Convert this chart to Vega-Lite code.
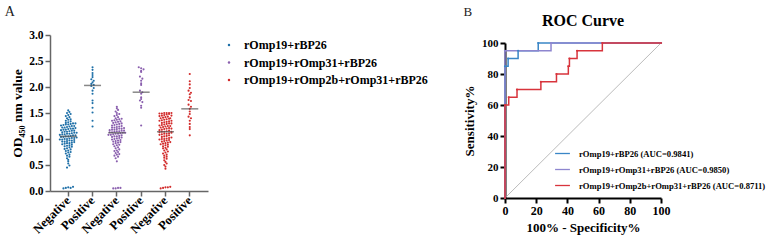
{
"$schema":"https://vega.github.io/schema/vega-lite/v6.json",
"padding":{"left":4,"top":5,"right":0,"bottom":0},
"background":"white",
"config":{"font":"Liberation Serif","view":{"stroke":null},"axis":{"grid":false,"labelOverlap":false,"labelBound":false},"legend":{"labelLimit":0}},
"spacing":31,
"datasets":{
"pts":[
{"g":1,"s":"N","v":0.05},{"g":1,"s":"N","v":0.06},{"g":1,"s":"N","v":0.07},{"g":1,"s":"N","v":0.06},{"g":1,"s":"N","v":0.08},
{"g":1,"s":"N","v":0.45},{"g":1,"s":"N","v":0.49},{"g":1,"s":"N","v":0.53},{"g":1,"s":"N","v":0.57},{"g":1,"s":"N","v":0.6},{"g":1,"s":"N","v":0.63},{"g":1,"s":"N","v":0.66},{"g":1,"s":"N","v":0.68},{"g":1,"s":"N","v":0.7},{"g":1,"s":"N","v":0.72},{"g":1,"s":"N","v":0.74},{"g":1,"s":"N","v":0.75},{"g":1,"s":"N","v":0.77},{"g":1,"s":"N","v":0.78},{"g":1,"s":"N","v":0.8},{"g":1,"s":"N","v":0.81},{"g":1,"s":"N","v":0.82},{"g":1,"s":"N","v":0.84},{"g":1,"s":"N","v":0.85},{"g":1,"s":"N","v":0.86},{"g":1,"s":"N","v":0.87},{"g":1,"s":"N","v":0.88},{"g":1,"s":"N","v":0.89},{"g":1,"s":"N","v":0.9},{"g":1,"s":"N","v":0.91},{"g":1,"s":"N","v":0.92},{"g":1,"s":"N","v":0.92},{"g":1,"s":"N","v":0.93},{"g":1,"s":"N","v":0.94},{"g":1,"s":"N","v":0.95},{"g":1,"s":"N","v":0.95},{"g":1,"s":"N","v":0.96},{"g":1,"s":"N","v":0.97},{"g":1,"s":"N","v":0.97},{"g":1,"s":"N","v":0.98},{"g":1,"s":"N","v":0.99},{"g":1,"s":"N","v":0.99},{"g":1,"s":"N","v":1.0},{"g":1,"s":"N","v":1.0},{"g":1,"s":"N","v":1.01},{"g":1,"s":"N","v":1.02},{"g":1,"s":"N","v":1.02},{"g":1,"s":"N","v":1.03},{"g":1,"s":"N","v":1.04},{"g":1,"s":"N","v":1.04},{"g":1,"s":"N","v":1.05},{"g":1,"s":"N","v":1.05},{"g":1,"s":"N","v":1.06},{"g":1,"s":"N","v":1.07},{"g":1,"s":"N","v":1.07},{"g":1,"s":"N","v":1.08},{"g":1,"s":"N","v":1.09},{"g":1,"s":"N","v":1.09},{"g":1,"s":"N","v":1.1},{"g":1,"s":"N","v":1.1},{"g":1,"s":"N","v":1.11},{"g":1,"s":"N","v":1.12},{"g":1,"s":"N","v":1.12},{"g":1,"s":"N","v":1.13},{"g":1,"s":"N","v":1.14},{"g":1,"s":"N","v":1.14},{"g":1,"s":"N","v":1.15},{"g":1,"s":"N","v":1.16},{"g":1,"s":"N","v":1.16},{"g":1,"s":"N","v":1.17},{"g":1,"s":"N","v":1.18},{"g":1,"s":"N","v":1.18},{"g":1,"s":"N","v":1.19},{"g":1,"s":"N","v":1.2},{"g":1,"s":"N","v":1.2},{"g":1,"s":"N","v":1.21},{"g":1,"s":"N","v":1.22},{"g":1,"s":"N","v":1.22},{"g":1,"s":"N","v":1.23},{"g":1,"s":"N","v":1.24},{"g":1,"s":"N","v":1.25},{"g":1,"s":"N","v":1.25},{"g":1,"s":"N","v":1.26},{"g":1,"s":"N","v":1.27},{"g":1,"s":"N","v":1.28},{"g":1,"s":"N","v":1.28},{"g":1,"s":"N","v":1.29},{"g":1,"s":"N","v":1.3},{"g":1,"s":"N","v":1.3},{"g":1,"s":"N","v":1.31},{"g":1,"s":"N","v":1.32},{"g":1,"s":"N","v":1.34},{"g":1,"s":"N","v":1.35},{"g":1,"s":"N","v":1.37},{"g":1,"s":"N","v":1.38},{"g":1,"s":"N","v":1.4},{"g":1,"s":"N","v":1.42},{"g":1,"s":"N","v":1.44},{"g":1,"s":"N","v":1.46},{"g":1,"s":"N","v":1.48},{"g":1,"s":"N","v":1.5},{"g":1,"s":"N","v":1.52},{"g":1,"s":"N","v":1.55},
{"g":1,"s":"P","v":2.38},{"g":1,"s":"P","v":2.33},{"g":1,"s":"P","v":2.27},{"g":1,"s":"P","v":2.23},{"g":1,"s":"P","v":2.19},{"g":1,"s":"P","v":2.15},{"g":1,"s":"P","v":2.12},{"g":1,"s":"P","v":2.09},{"g":1,"s":"P","v":2.06},{"g":1,"s":"P","v":2.04},{"g":1,"s":"P","v":2.02},{"g":1,"s":"P","v":1.98},{"g":1,"s":"P","v":1.93},{"g":1,"s":"P","v":1.87},{"g":1,"s":"P","v":1.74},{"g":1,"s":"P","v":1.69},{"g":1,"s":"P","v":1.6},{"g":1,"s":"P","v":1.51},{"g":1,"s":"P","v":1.35},{"g":1,"s":"P","v":1.24},
{"g":2,"s":"N","v":0.05},{"g":2,"s":"N","v":0.05},{"g":2,"s":"N","v":0.06},{"g":2,"s":"N","v":0.06},
{"g":2,"s":"N","v":0.57},{"g":2,"s":"N","v":0.63},{"g":2,"s":"N","v":0.66},{"g":2,"s":"N","v":0.68},{"g":2,"s":"N","v":0.7},{"g":2,"s":"N","v":0.71},{"g":2,"s":"N","v":0.73},{"g":2,"s":"N","v":0.75},{"g":2,"s":"N","v":0.77},{"g":2,"s":"N","v":0.78},{"g":2,"s":"N","v":0.8},{"g":2,"s":"N","v":0.82},{"g":2,"s":"N","v":0.84},{"g":2,"s":"N","v":0.86},{"g":2,"s":"N","v":0.88},{"g":2,"s":"N","v":0.89},{"g":2,"s":"N","v":0.9},{"g":2,"s":"N","v":0.92},{"g":2,"s":"N","v":0.93},{"g":2,"s":"N","v":0.94},{"g":2,"s":"N","v":0.95},{"g":2,"s":"N","v":0.96},{"g":2,"s":"N","v":0.97},{"g":2,"s":"N","v":0.98},{"g":2,"s":"N","v":0.99},{"g":2,"s":"N","v":1.0},{"g":2,"s":"N","v":1.01},{"g":2,"s":"N","v":1.02},{"g":2,"s":"N","v":1.03},{"g":2,"s":"N","v":1.04},{"g":2,"s":"N","v":1.05},{"g":2,"s":"N","v":1.05},{"g":2,"s":"N","v":1.06},{"g":2,"s":"N","v":1.07},{"g":2,"s":"N","v":1.08},{"g":2,"s":"N","v":1.08},{"g":2,"s":"N","v":1.09},{"g":2,"s":"N","v":1.1},{"g":2,"s":"N","v":1.1},{"g":2,"s":"N","v":1.11},{"g":2,"s":"N","v":1.12},{"g":2,"s":"N","v":1.12},{"g":2,"s":"N","v":1.13},{"g":2,"s":"N","v":1.13},{"g":2,"s":"N","v":1.14},{"g":2,"s":"N","v":1.15},{"g":2,"s":"N","v":1.15},{"g":2,"s":"N","v":1.16},{"g":2,"s":"N","v":1.16},{"g":2,"s":"N","v":1.17},{"g":2,"s":"N","v":1.18},{"g":2,"s":"N","v":1.18},{"g":2,"s":"N","v":1.19},{"g":2,"s":"N","v":1.2},{"g":2,"s":"N","v":1.2},{"g":2,"s":"N","v":1.21},{"g":2,"s":"N","v":1.22},{"g":2,"s":"N","v":1.22},{"g":2,"s":"N","v":1.23},{"g":2,"s":"N","v":1.24},{"g":2,"s":"N","v":1.25},{"g":2,"s":"N","v":1.26},{"g":2,"s":"N","v":1.27},{"g":2,"s":"N","v":1.28},{"g":2,"s":"N","v":1.29},{"g":2,"s":"N","v":1.3},{"g":2,"s":"N","v":1.31},{"g":2,"s":"N","v":1.32},{"g":2,"s":"N","v":1.33},{"g":2,"s":"N","v":1.34},{"g":2,"s":"N","v":1.35},{"g":2,"s":"N","v":1.36},{"g":2,"s":"N","v":1.37},{"g":2,"s":"N","v":1.38},{"g":2,"s":"N","v":1.39},{"g":2,"s":"N","v":1.4},{"g":2,"s":"N","v":1.42},{"g":2,"s":"N","v":1.44},{"g":2,"s":"N","v":1.46},{"g":2,"s":"N","v":1.48},{"g":2,"s":"N","v":1.5},{"g":2,"s":"N","v":1.53},{"g":2,"s":"N","v":1.56},{"g":2,"s":"N","v":1.59},{"g":2,"s":"N","v":1.62},
{"g":2,"s":"P","v":2.38},{"g":2,"s":"P","v":2.36},{"g":2,"s":"P","v":2.34},{"g":2,"s":"P","v":2.31},{"g":2,"s":"P","v":2.29},{"g":2,"s":"P","v":2.2},{"g":2,"s":"P","v":2.16},{"g":2,"s":"P","v":2.12},{"g":2,"s":"P","v":2.07},{"g":2,"s":"P","v":2.04},{"g":2,"s":"P","v":1.93},{"g":2,"s":"P","v":1.9},{"g":2,"s":"P","v":1.87},{"g":2,"s":"P","v":1.8},{"g":2,"s":"P","v":1.77},{"g":2,"s":"P","v":1.74},{"g":2,"s":"P","v":1.71},{"g":2,"s":"P","v":1.64},{"g":2,"s":"P","v":1.6},{"g":2,"s":"P","v":1.26},
{"g":3,"s":"N","v":0.05},{"g":3,"s":"N","v":0.06},{"g":3,"s":"N","v":0.07},{"g":3,"s":"N","v":0.07},{"g":3,"s":"N","v":0.08},
{"g":3,"s":"N","v":0.43},{"g":3,"s":"N","v":0.47},{"g":3,"s":"N","v":0.5},{"g":3,"s":"N","v":0.53},{"g":3,"s":"N","v":0.56},{"g":3,"s":"N","v":0.59},{"g":3,"s":"N","v":0.62},{"g":3,"s":"N","v":0.64},{"g":3,"s":"N","v":0.66},{"g":3,"s":"N","v":0.68},{"g":3,"s":"N","v":0.7},{"g":3,"s":"N","v":0.72},{"g":3,"s":"N","v":0.74},{"g":3,"s":"N","v":0.76},{"g":3,"s":"N","v":0.78},{"g":3,"s":"N","v":0.8},{"g":3,"s":"N","v":0.82},{"g":3,"s":"N","v":0.83},{"g":3,"s":"N","v":0.85},{"g":3,"s":"N","v":0.86},{"g":3,"s":"N","v":0.88},{"g":3,"s":"N","v":0.89},{"g":3,"s":"N","v":0.9},{"g":3,"s":"N","v":0.91},{"g":3,"s":"N","v":0.92},{"g":3,"s":"N","v":0.93},{"g":3,"s":"N","v":0.94},{"g":3,"s":"N","v":0.95},{"g":3,"s":"N","v":0.96},{"g":3,"s":"N","v":0.97},{"g":3,"s":"N","v":0.98},{"g":3,"s":"N","v":0.99},{"g":3,"s":"N","v":1.0},{"g":3,"s":"N","v":1.0},{"g":3,"s":"N","v":1.01},{"g":3,"s":"N","v":1.02},{"g":3,"s":"N","v":1.03},{"g":3,"s":"N","v":1.04},{"g":3,"s":"N","v":1.05},{"g":3,"s":"N","v":1.06},{"g":3,"s":"N","v":1.07},{"g":3,"s":"N","v":1.08},{"g":3,"s":"N","v":1.09},{"g":3,"s":"N","v":1.1},{"g":3,"s":"N","v":1.1},{"g":3,"s":"N","v":1.11},{"g":3,"s":"N","v":1.12},{"g":3,"s":"N","v":1.13},{"g":3,"s":"N","v":1.14},{"g":3,"s":"N","v":1.14},{"g":3,"s":"N","v":1.15},{"g":3,"s":"N","v":1.16},{"g":3,"s":"N","v":1.17},{"g":3,"s":"N","v":1.18},{"g":3,"s":"N","v":1.19},{"g":3,"s":"N","v":1.2},{"g":3,"s":"N","v":1.21},{"g":3,"s":"N","v":1.22},{"g":3,"s":"N","v":1.23},{"g":3,"s":"N","v":1.24},{"g":3,"s":"N","v":1.25},{"g":3,"s":"N","v":1.26},{"g":3,"s":"N","v":1.27},{"g":3,"s":"N","v":1.28},{"g":3,"s":"N","v":1.29},{"g":3,"s":"N","v":1.3},{"g":3,"s":"N","v":1.31},{"g":3,"s":"N","v":1.32},{"g":3,"s":"N","v":1.33},{"g":3,"s":"N","v":1.34},{"g":3,"s":"N","v":1.35},{"g":3,"s":"N","v":1.36},{"g":3,"s":"N","v":1.37},{"g":3,"s":"N","v":1.38},{"g":3,"s":"N","v":1.39},{"g":3,"s":"N","v":1.4},{"g":3,"s":"N","v":1.41},{"g":3,"s":"N","v":1.42},{"g":3,"s":"N","v":1.43},{"g":3,"s":"N","v":1.44},{"g":3,"s":"N","v":1.45},{"g":3,"s":"N","v":1.46},{"g":3,"s":"N","v":1.47},{"g":3,"s":"N","v":1.48},{"g":3,"s":"N","v":1.49},{"g":3,"s":"N","v":1.49},{"g":3,"s":"N","v":1.5},{"g":3,"s":"N","v":1.5},{"g":3,"s":"N","v":1.5},{"g":3,"s":"N","v":1.5},{"g":3,"s":"N","v":1.14},{"g":3,"s":"N","v":1.2},{"g":3,"s":"N","v":1.25},{"g":3,"s":"N","v":1.3},{"g":3,"s":"N","v":1.35},{"g":3,"s":"N","v":1.4},{"g":3,"s":"N","v":1.45},
{"g":3,"s":"P","v":2.25},{"g":3,"s":"P","v":2.11},{"g":3,"s":"P","v":2.05},{"g":3,"s":"P","v":1.98},{"g":3,"s":"P","v":1.93},{"g":3,"s":"P","v":1.89},{"g":3,"s":"P","v":1.86},{"g":3,"s":"P","v":1.8},{"g":3,"s":"P","v":1.75},{"g":3,"s":"P","v":1.73},{"g":3,"s":"P","v":1.66},{"g":3,"s":"P","v":1.62},{"g":3,"s":"P","v":1.58},{"g":3,"s":"P","v":1.53},{"g":3,"s":"P","v":1.48},{"g":3,"s":"P","v":1.43},{"g":3,"s":"P","v":1.4},{"g":3,"s":"P","v":1.35},{"g":3,"s":"P","v":1.29},{"g":3,"s":"P","v":1.23},{"g":3,"s":"P","v":1.19},{"g":3,"s":"P","v":1.07}
],
"med":[{"g":1,"s":"N","v":1.05},{"g":1,"s":"P","v":2.03},{"g":2,"s":"N","v":1.12},{"g":2,"s":"P","v":1.9},{"g":3,"s":"N","v":1.14},{"g":3,"s":"P","v":1.58}],
"roc":[
{"c":1,"x":0,"y":0},{"c":1,"x":0,"y":85},{"c":1,"x":2,"y":90},{"c":1,"x":8.4,"y":95},{"c":1,"x":21.3,"y":100},{"c":1,"x":100,"y":100},
{"c":2,"x":0,"y":0},{"c":2,"x":0,"y":95},{"c":2,"x":29.5,"y":100},{"c":2,"x":100,"y":100},
{"c":3,"x":0,"y":0},{"c":3,"x":0,"y":60},{"c":3,"x":2.4,"y":65},{"c":3,"x":7.7,"y":70},{"c":3,"x":23,"y":75},{"c":3,"x":33,"y":80},{"c":3,"x":40.6,"y":85},{"c":3,"x":41.3,"y":90},{"c":3,"x":46.2,"y":95},{"c":3,"x":62.4,"y":100},{"c":3,"x":100,"y":100}
],
"diag":[{"x":0,"y":0},{"x":100,"y":100}]
},
"hconcat":[
{
"title":{"text":"A","anchor":"start","frame":"bounds","fontSize":14,"fontWeight":"normal","font":"Liberation Serif","color":"#222","dx":-6,"offset":10},
"width":158,"height":156,
"encoding":{
"x":{"field":"k","type":"nominal","sort":["N1","P1","N2","P2","N3","P3"],"scale":{"domain":["N1","P1","N2","P2","N3","P3"],"paddingInner":0,"paddingOuter":0.25},
"axis":{"title":null,"labelAngle":-45,"labelAlign":"right","labelBaseline":"middle","labelExpr":"datum.value[0]=='N' ? 'Negative' : 'Positive'","labelFont":"Liberation Serif","labelFontSize":12.5,"labelFontWeight":"bold","labelColor":"#000","domainColor":"#666","domainWidth":1.5,"tickColor":"#666","tickWidth":1.5,"tickSize":5,"labelPadding":2,"labelOverlap":false}},
"y":{"field":"v","type":"quantitative","scale":{"domain":[0,3]},
"axis":{"values":[0,0.5,1,1.5,2,2.5,3],"tickCount":7,"format":".1f","title":"OD₄₅₀ nm value","titleFont":"Liberation Serif","titleFontSize":13.5,"titleFontWeight":"bold","titleColor":"#000","titlePadding":4,"labelFont":"Liberation Serif","labelFontSize":11.5,"labelFontWeight":"bold","labelColor":"#000","domainColor":"#666","domainWidth":1.5,"tickColor":"#666","tickWidth":1.5,"tickSize":5,"labelFlush":false,"labelOverlap":false}}
},
"layer":[
{
"data":{"name":"pts"},
"transform":[
{"calculate":"datum.s + datum.g","as":"k"},
{"calculate":"floor(datum.v/0.045)","as":"b"},
{"window":[{"op":"row_number","as":"rn"}],"groupby":["k","b"]},
{"joinaggregate":[{"op":"count","as":"cnt"}],"groupby":["k","b"]},
{"calculate":"(datum.rn-(datum.cnt+1)/2)*2.4","as":"off"}
],
"mark":{"type":"circle","size":4.5,"opacity":1},
"encoding":{
"xOffset":{"field":"off","type":"quantitative","scale":{"domain":[-12.15,12.15],"range":[0,24.3]}},
"color":{"field":"g","type":"nominal","scale":{"domain":[1,2,3],"range":["#1f70a8","#8a5fae","#d22b2b"]},
"legend":{"title":null,"orient":"right","offset":11,"padding":4,"labelFont":"Liberation Serif","labelFontSize":12,"labelFontWeight":"bold","labelColor":"#000","labelLimit":0,"symbolType":"circle","symbolSize":6,"rowPadding":5.5,"labelOffset":9,"labelExpr":"['rOmp19+rBP26','rOmp19+rOmp31+rBP26','rOmp19+rOmp2b+rOmp31+rBP26'][datum.value-1]"}}
}
},
{
"data":{"name":"med"},
"transform":[{"calculate":"datum.s + datum.g","as":"k"}],
"mark":{"type":"tick","color":"#555","thickness":1.5,"size":17}
}
]
},
{
"title":{"text":"B","anchor":"start","frame":"bounds","fontSize":13,"fontWeight":"normal","font":"Liberation Serif","color":"#222","offset":-6},
"vconcat":[
{
"title":{"text":"ROC Curve","anchor":"middle","fontSize":16,"fontWeight":"bold","font":"Liberation Serif","color":"#000","offset":6},
"width":156,"height":163,
"encoding":{
"x":{"field":"x","type":"quantitative","scale":{"domain":[0,100]},
"axis":{"values":[0,20,40,60,80,100],"tickCount":6,"title":"100% - Specificity%","titleFont":"Liberation Serif","titleFontSize":13,"titleFontWeight":"bold","titleColor":"#000","titlePadding":5,"labelFont":"Liberation Serif","labelFontSize":12,"labelFontWeight":"bold","labelColor":"#000","domainColor":"#000","domainWidth":2,"tickColor":"#000","tickWidth":2,"tickSize":5,"labelPadding":2,"labelFlush":false,"labelOverlap":false}},
"y":{"field":"y","type":"quantitative","scale":{"domain":[0,100],"range":[163,8]},
"axis":{"values":[0,20,40,60,80,100],"tickCount":6,"title":"Sensitivity%","titleFont":"Liberation Serif","titleFontSize":13,"titleFontWeight":"bold","titleColor":"#000","titlePadding":5,"labelFont":"Liberation Serif","labelFontSize":11,"labelFontWeight":"bold","labelColor":"#000","domainColor":"#000","domainWidth":2,"tickColor":"#000","tickWidth":2,"tickSize":5,"labelPadding":2,"labelFlush":false,"labelOverlap":false}}
},
"layer":[
{
"data":{"name":"diag"},
"mark":{"type":"line","color":"#aaa","strokeWidth":0.8}
},
{
"data":{"name":"roc"},
"mark":{"type":"line","interpolate":"step-after","strokeWidth":1.5,"clip":false,"point":{"size":5,"filled":true}},
"encoding":{
"color":{"field":"c","type":"nominal","scale":{"domain":[1,2,3],"range":["#3a86c6","#8e86cf","#d8343c"]},
"legend":{"title":null,"orient":"none","legendX":49,"legendY":110,"symbolType":"stroke","symbolSize":220,"symbolStrokeWidth":1.3,"labelFont":"Liberation Serif","labelFontSize":8.6,"labelFontWeight":"bold","labelColor":"#000","labelLimit":0,"rowPadding":2,"labelOffset":8,"labelExpr":"['rOmp19+rBP26 (AUC=0.9841)','rOmp19+rOmp31+rBP26 (AUC=0.9850)','rOmp19+rOmp2b+rOmp31+rBP26 (AUC=0.8711)'][datum.value-1]"}}
}
}
]
}
]
}
],
"resolve":{"scale":{"color":"independent"},"legend":{"color":"independent"}}
}
